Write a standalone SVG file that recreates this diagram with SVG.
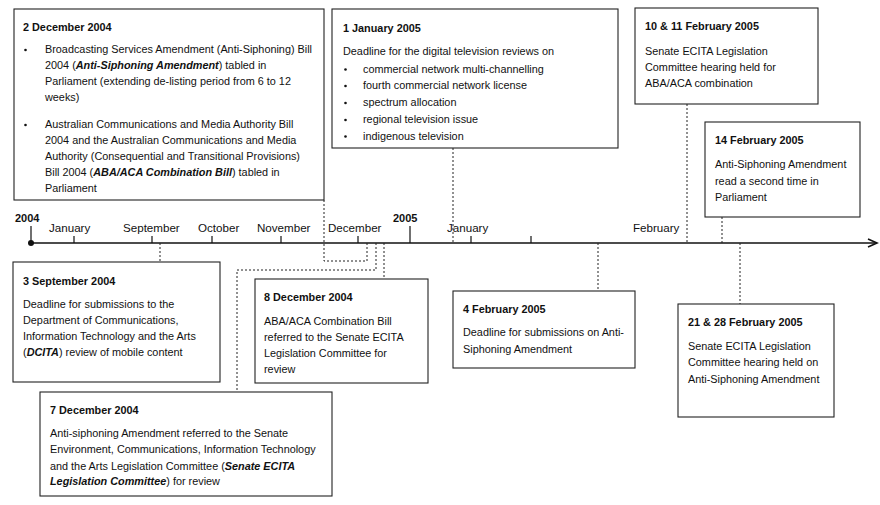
<svg xmlns="http://www.w3.org/2000/svg" width="880" height="505" viewBox="0 0 880 505">
<defs>
<style>
text{font-family:"Liberation Sans",Arial,sans-serif;font-size:10.85px;fill:#111}
.t{font-weight:bold}
.bi{font-weight:bold;font-style:italic}
.box{fill:#fff;stroke:#222;stroke-width:1.1}
.dash{fill:none;stroke:#222;stroke-width:1;stroke-dasharray:2,2}
.axis{stroke:#111;stroke-width:1.5;fill:none}
.tick{stroke:#111;stroke-width:1.2}
.lbl{font-size:11.6px}
.yr{font-size:11px}
</style>
<marker id="arr" markerWidth="12" markerHeight="10" refX="10" refY="5" orient="auto" markerUnits="userSpaceOnUse">
<path d="M1,1 L10,5 L1,9" fill="none" stroke="#111" stroke-width="1.6"/>
</marker>
</defs>

<g id="timeline">
<line class="axis" x1="31" y1="243" x2="877" y2="243" marker-end="url(#arr)"/>
<circle cx="31" cy="243" r="3" fill="#111"/>
<line class="tick" x1="31" y1="226" x2="31" y2="243"/>
<line class="tick" x1="74" y1="236" x2="74" y2="243"/>
<line class="tick" x1="152" y1="236" x2="152" y2="243"/>
<line class="tick" x1="212" y1="236" x2="212" y2="243"/>
<line class="tick" x1="281" y1="236" x2="281" y2="243"/>
<line class="tick" x1="358" y1="236" x2="358" y2="243"/>
<line class="tick" x1="410" y1="226" x2="410" y2="243"/>
<line class="tick" x1="471" y1="236" x2="471" y2="243"/>
<line class="tick" x1="531" y1="236" x2="531" y2="243"/>
<text class="t yr" x="15" y="222">2004</text>
<text class="t yr" x="393" y="222">2005</text>
<text class="lbl" x="49" y="232">January</text>
<text class="lbl" x="123" y="232">September</text>
<text class="lbl" x="198" y="232">October</text>
<text class="lbl" x="257" y="232">November</text>
<text class="lbl" x="328" y="232">December</text>
<text class="lbl" x="447" y="232">January</text>
<text class="lbl" x="633" y="232">February</text>
</g>

<g id="connectors">
<path class="dash" d="M324,200 V261 H367 V243"/>
<path class="dash" d="M376,243 V270 H237 V392"/>
<path class="dash" d="M384,243 V279"/>
<path class="dash" d="M160,243 V262"/>
<path class="dash" d="M453,148 V243"/>
<path class="dash" d="M598,243 V291"/>
<path class="dash" d="M687,104 V243"/>
<path class="dash" d="M722,217 V243"/>
<path class="dash" d="M740,243 V304"/>
</g>

<g id="dec2">
<rect class="box" x="14" y="9" width="310" height="191"/>
<text class="t" x="23" y="31">2 December 2004</text>
<circle cx="25.5" cy="50" r="1.3" fill="#111"/>
<text x="45" y="53">Broadcasting Services Amendment (Anti-Siphoning) Bill</text>
<text x="45" y="69">2004 (<tspan class="bi">Anti-Siphoning Amendment</tspan>) tabled in</text>
<text x="45" y="85">Parliament (extending de-listing period from 6 to 12</text>
<text x="45" y="101">weeks)</text>
<circle cx="25.5" cy="125" r="1.3" fill="#111"/>
<text x="45" y="128">Australian Communications and Media Authority Bill</text>
<text x="45" y="144">2004 and the Australian Communications and Media</text>
<text x="45" y="160">Authority (Consequential and Transitional Provisions)</text>
<text x="45" y="176">Bill 2004 (<tspan class="bi">ABA/ACA Combination Bill</tspan>) tabled in</text>
<text x="45" y="192">Parliament</text>
</g>

<g id="jan1">
<rect class="box" x="332" y="9" width="286" height="139"/>
<text class="t" x="343" y="32">1 January 2005</text>
<text x="343" y="55">Deadline for the digital television reviews on</text>
<circle cx="345.5" cy="69.5" r="1.3" fill="#111"/>
<text x="363" y="72.5">commercial network multi-channelling</text>
<circle cx="345.5" cy="86" r="1.3" fill="#111"/>
<text x="363" y="89">fourth commercial network license</text>
<circle cx="345.5" cy="103" r="1.3" fill="#111"/>
<text x="363" y="106">spectrum allocation</text>
<circle cx="345.5" cy="120" r="1.3" fill="#111"/>
<text x="363" y="123">regional television issue</text>
<circle cx="345.5" cy="136.5" r="1.3" fill="#111"/>
<text x="363" y="139.5">indigenous television</text>
</g>

<g id="feb10">
<rect class="box" x="635" y="8" width="183" height="96"/>
<text class="t" x="645" y="30">10 &amp; 11 February 2005</text>
<text x="645" y="54.5">Senate ECITA Legislation</text>
<text x="645" y="71">Committee hearing held for</text>
<text x="645" y="87">ABA/ACA combination</text>
</g>

<g id="feb14">
<rect class="box" x="705" y="122" width="155" height="95"/>
<text class="t" x="715" y="143.5">14 February 2005</text>
<text x="715" y="168">Anti-Siphoning Amendment</text>
<text x="715" y="185">read a second time in</text>
<text x="715" y="201">Parliament</text>
</g>

<g id="sep3">
<rect class="box" x="13" y="262" width="207" height="120"/>
<text class="t" x="23" y="284.5">3 September 2004</text>
<text x="23" y="308">Deadline for submissions to the</text>
<text x="23" y="324">Department of Communications,</text>
<text x="23" y="340">Information Technology and the Arts</text>
<text x="23" y="356">(<tspan class="bi">DCITA</tspan>) review of mobile content</text>
</g>

<g id="dec8">
<rect class="box" x="255" y="279" width="173" height="104"/>
<text class="t" x="264" y="301">8 December 2004</text>
<text x="264" y="324.5">ABA/ACA Combination Bill</text>
<text x="264" y="340.5">referred to the Senate ECITA</text>
<text x="264" y="357">Legislation Committee for</text>
<text x="264" y="373">review</text>
</g>

<g id="dec7">
<rect class="box" x="40" y="392" width="292" height="104"/>
<text class="t" x="50" y="414">7 December 2004</text>
<text x="50" y="437">Anti-siphoning Amendment referred to the Senate</text>
<text x="50" y="453">Environment, Communications, Information Technology</text>
<text x="50" y="469.5">and the Arts Legislation Committee (<tspan class="bi">Senate ECITA</tspan></text>
<text x="50" y="485"><tspan class="bi">Legislation Committee</tspan>) for review</text>
</g>

<g id="feb4">
<rect class="box" x="453" y="291" width="182" height="77"/>
<text class="t" x="463" y="313">4 February 2005</text>
<text x="463" y="336">Deadline for submissions on Anti-</text>
<text x="463" y="352.5">Siphoning Amendment</text>
</g>

<g id="feb21">
<rect class="box" x="678" y="304" width="156" height="113"/>
<text class="t" x="688" y="326">21 &amp; 28 February 2005</text>
<text x="688" y="350">Senate ECITA Legislation</text>
<text x="688" y="366">Committee hearing held on</text>
<text x="688" y="382.5">Anti-Siphoning Amendment</text>
</g>
</svg>
